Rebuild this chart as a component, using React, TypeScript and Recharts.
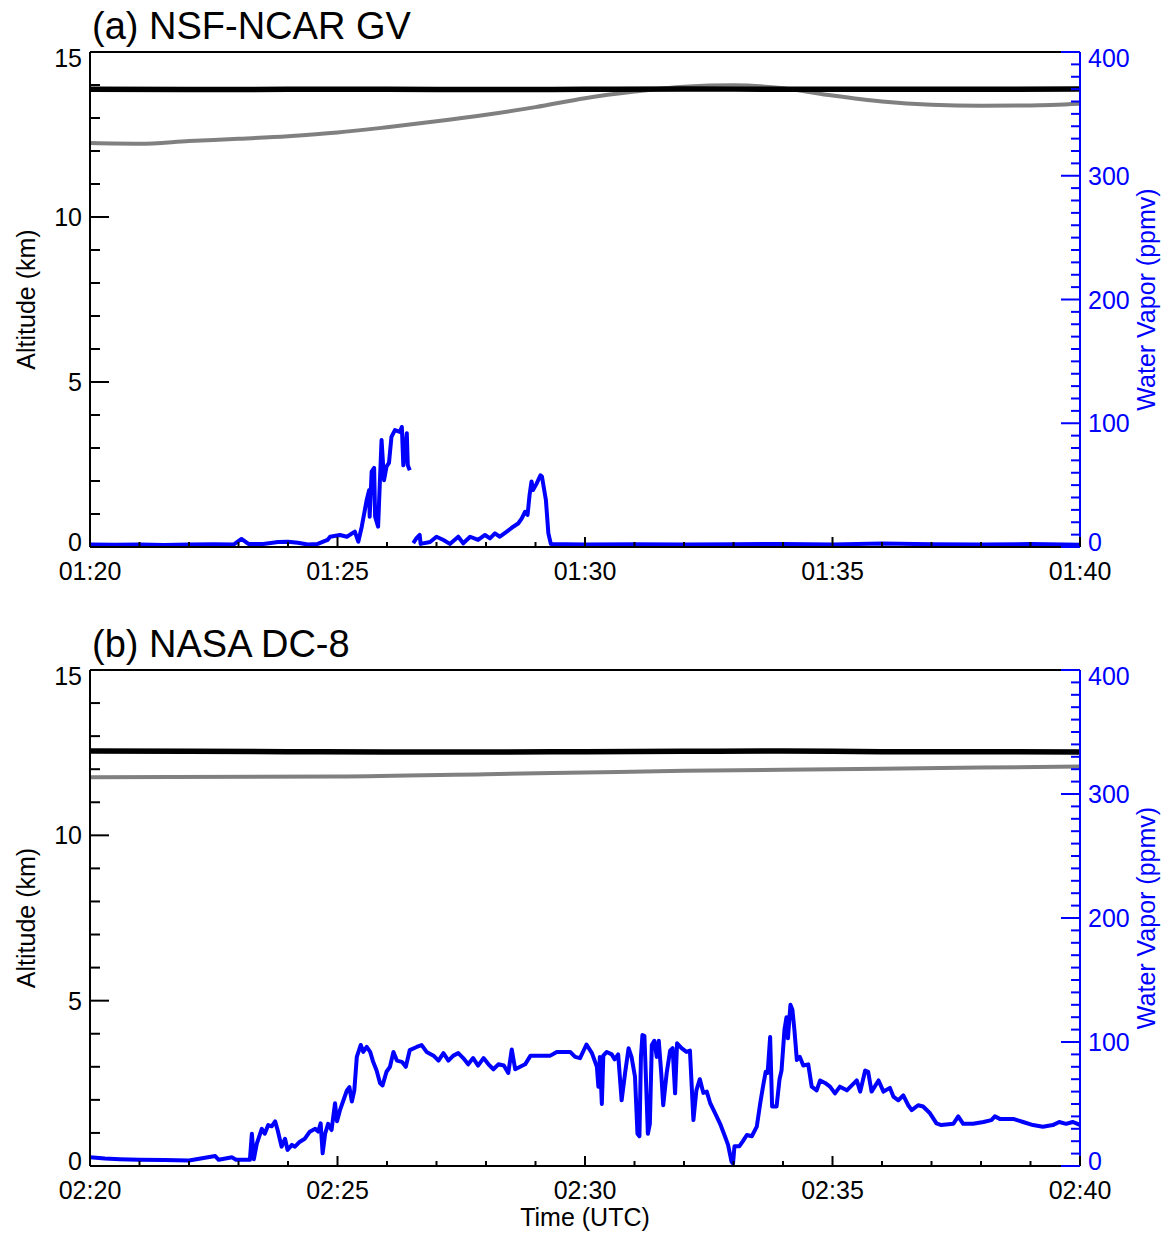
import React from 'react';
import { ComposedChart, Line, XAxis, YAxis } from 'recharts';

const FONT = '"Liberation Sans", Arial, Helvetica, sans-serif';
const BLUE = '#0000ff';
const GRAY = '#808080';

// time axis is in minutes after the window start (01:20 for the GV, 02:20 for the DC-8)
const minuteTicks = [0, 1, 2, 3, 4, 5, 6, 7, 8, 9, 10, 11, 12, 13, 14, 15, 16, 17, 18, 19, 20];
const gvTimeLabels = ['01:20', '01:25', '01:30', '01:35', '01:40'];
const dc8TimeLabels = ['02:20', '02:25', '02:30', '02:35', '02:40'];
const altTicks = [0, 1, 2, 3, 4, 5, 6, 7, 8, 9, 10, 11, 12, 13, 14, 15];
const h2oTicks = Array.from({ length: 41 }, (_, i) => i * 10);

// (a) NSF-NCAR GV
const gvAltTime = [0, 2, 4, 6, 8, 10, 12, 14, 16, 18, 20];
const gvAlt = [13.87, 13.86, 13.87, 13.87, 13.86, 13.87, 13.88, 13.87, 13.87, 13.87, 13.88];
const gvTropTime = [0, 1, 2, 3, 4, 5, 6, 7, 8, 9, 10, 11, 12, 13, 14, 15, 16, 17, 18, 19, 20];
const gvTrop = [12.24, 12.22, 12.3, 12.37, 12.45, 12.56, 12.72, 12.9, 13.1, 13.33, 13.6, 13.8, 13.95, 13.99, 13.9, 13.68, 13.5, 13.4, 13.37, 13.38, 13.43];
const gvH2OTime = [
  0, 0.5, 1, 1.5, 2, 2.5, 2.9, 3.06, 3.2, 3.5, 3.8, 4.0, 4.2, 4.4, 4.6, 4.8, 4.85, 5.05, 5.19, 5.35,
  5.42, 5.49, 5.59, 5.64, 5.65, 5.69, 5.74, 5.76, 5.82, 5.89, 5.94, 5.99, 6.04, 6.09, 6.16, 6.26, 6.3,
  6.33, 6.4, 6.42, 6.46, 6.5, 6.53, 6.6, 6.66, 6.68, 6.87, 7.0, 7.14, 7.27, 7.44, 7.54, 7.68, 7.84,
  7.98, 8.08, 8.18, 8.28, 8.42, 8.55, 8.65, 8.72, 8.79, 8.84, 8.88, 8.92, 8.95, 9.02, 9.1, 9.13, 9.21,
  9.26, 9.31, 9.6, 10, 11, 12, 13, 14, 15, 16, 17, 18, 19, 20,
];
const gvH2O: (number | null)[] = [
  2, 1.8, 2, 1.6, 2, 2.2, 2, 6.5, 2.5, 2.5, 4, 4.3, 3.5, 2, 2.5, 5.7, 8.3, 9.7, 8.3, 12.4,
  4.3, 16.4, 38, 46, 24.5, 61, 64, 24.5, 16.4, 86.5, 54, 65, 68, 89, 94.5, 93, 97,
  66, 92, 66, 62, null, 3.2, 7.3, 9.7, 2.5, 4, 8.3, 5.7, 2.5, 8.3, 3, 8.3, 5.7,
  9.7, 7, 11, 8.3, 12.4, 16.4, 19, 23, 28.5, 26, 42, 53, 46, 51, 58, 57, 38,
  11, 2.5, 2.2, 2, 2.3, 2, 2.2, 2.5, 2.1, 2.8, 2.2, 2, 2.4, 1.8,
];

// (b) NASA DC-8
const dc8AltTime = [0, 2, 4, 6, 8, 10, 12, 14, 16, 18, 20];
const dc8Alt = [12.55, 12.54, 12.53, 12.52, 12.52, 12.53, 12.54, 12.55, 12.53, 12.53, 12.52];
const dc8TropTime = [0, 5, 8, 10, 12, 15, 18, 20];
const dc8Trop = [11.76, 11.78, 11.85, 11.9, 11.95, 12.0, 12.05, 12.08];
const dc8H2OTime = [
  0, 0.3, 0.6, 1, 1.5, 2, 2.53, 2.6, 2.87, 2.95, 3.23, 3.27, 3.31, 3.37, 3.47, 3.53, 3.6, 3.67, 3.74,
  3.79, 3.87, 3.94, 3.99, 4.08, 4.14, 4.24, 4.34, 4.44, 4.55, 4.61, 4.66, 4.7, 4.75, 4.81, 4.88, 4.95,
  4.99, 5.05, 5.12, 5.19, 5.24, 5.29, 5.34, 5.39, 5.47, 5.52, 5.59, 5.66, 5.72, 5.79, 5.86, 5.91, 5.99,
  6.06, 6.13, 6.2, 6.3, 6.38, 6.46, 6.6, 6.7, 6.8, 6.94, 7.04, 7.14, 7.24, 7.34, 7.44, 7.54, 7.64, 7.74,
  7.84, 7.95, 8.05, 8.15, 8.25, 8.36, 8.45, 8.52, 8.59, 8.69, 8.79, 8.9, 9.03, 9.16, 9.3, 9.43, 9.56,
  9.7, 9.8, 9.9, 10.03, 10.14, 10.24, 10.27, 10.3, 10.34, 10.37, 10.44, 10.54, 10.6, 10.67, 10.74,
  10.81, 10.88, 10.94, 11.01, 11.06, 11.1, 11.13, 11.16, 11.2, 11.23, 11.27, 11.31, 11.35, 11.4, 11.45,
  11.49, 11.54, 11.58, 11.65, 11.72, 11.77, 11.82, 11.86, 11.95, 12.05, 12.12, 12.19, 12.25, 12.32,
  12.39, 12.46, 12.53, 12.63, 12.73, 12.83, 12.89, 12.96, 12.99, 13.02, 13.12, 13.19, 13.27, 13.37,
  13.47, 13.54, 13.6, 13.65, 13.69, 13.74, 13.78, 13.87, 13.93, 13.97, 14.03, 14.07, 14.1, 14.15,
  14.19, 14.23, 14.28, 14.34, 14.41, 14.51, 14.58, 14.68, 14.75, 14.85, 14.95, 15.05, 15.15, 15.29,
  15.39, 15.49, 15.56, 15.66, 15.72, 15.79, 15.93, 16.03, 16.16, 16.23, 16.33, 16.43, 16.53, 16.6,
  16.73, 16.83, 16.97, 17.1, 17.2, 17.44, 17.54, 17.64, 17.84, 18.05, 18.21, 18.28, 18.38, 18.65,
  18.85, 19.05, 19.25, 19.45, 19.58, 19.72, 19.85, 19.95, 20,
];
const dc8H2O = [
  7, 6, 5.5, 5, 4.8, 4.5, 8, 5, 7, 5, 5, 26, 5.5, 18, 30, 26, 33, 32, 36,
  29, 15.6, 22, 13, 17, 15.6, 19.6, 22, 27.7, 30, 27.7, 34.4, 10.2, 26, 34, 29, 50.6,
  36, 45, 53, 61, 63.6, 52, 61, 88, 97.6, 92, 96, 92, 84, 77, 66.7, 65, 76,
  80, 92, 85, 84, 80, 93.5, 96, 97.5, 92, 89, 85, 91, 85, 89, 91, 87, 82, 87,
  81, 87, 82, 78, 82, 81, 75, 94, 78, 80, 82, 89, 89, 89, 89, 92, 92,
  92, 88, 87, 98, 91, 80, 64, 88, 50, 89, 92, 90, 86, 90, 53,
  75, 95, 88, 72, 26, 24, 88, 105.6, 105, 72, 26, 34, 97.6, 101, 88,
  101, 75, 49, 75, 93, 95, 58.6, 99, 95, 92, 93, 37, 61, 70,
  59, 60, 50.6, 42.5, 34, 23.6, 17, 3.5, 2, 16, 16, 20, 25, 24,
  31.7, 50.6, 65, 76, 75, 104, 48, 48, 70, 77, 110, 120, 103, 130,
  126, 110, 85.5, 88, 81, 82, 64, 61, 69, 67, 64, 58.6, 64, 61,
  65, 69, 60, 77, 76, 60, 69, 60, 63, 56, 53, 57, 49, 45,
  49, 48, 42.5, 34.4, 33, 34, 40, 34, 34, 35.5, 37, 40, 38, 38,
  35.5, 33, 31.7, 33, 35.5, 34, 35.5, 34, 33,
];

const zip = (t: number[], v: (number | null)[]) => t.map((x, i) => ({ t: x, v: v[i] }));

const textStyle = { fontFamily: FONT, fontSize: 25 };

function TopTick({ x = 0, y = 0, payload }: any) {
  const major = payload.value % 5 === 0;
  return <line x1={x} x2={x} y1={y} y2={y + (major ? 10 : 6)} stroke="#000" strokeWidth={2} />;
}

function makeBottomTick(labels: string[]) {
  return ({ x = 0, y = 0, payload }: any) => {
    const major = payload.value % 5 === 0;
    return (
      <g>
        <line x1={x} x2={x} y1={y} y2={y - (major ? 10 : 5)} stroke="#000" strokeWidth={2} />
        {major && (
          <text x={x} y={y + 33} textAnchor="middle" fill="#000" {...textStyle}>
            {labels[payload.value / 5]}
          </text>
        )}
      </g>
    );
  };
}

function LeftTick({ x = 0, y = 0, payload }: any) {
  const v = payload.value;
  const major = v % 5 === 0;
  const dy = v === 15 ? 15 : v === 0 ? 4 : 9;
  return (
    <g>
      <line x1={x} x2={x + (major ? 19 : 10)} y1={y} y2={y} stroke="#000" strokeWidth={2} />
      {major && (
        <text x={x - 8} y={y + dy} textAnchor="end" fill="#000" {...textStyle}>
          {v}
        </text>
      )}
    </g>
  );
}

function RightTick({ x = 0, y = 0, payload }: any) {
  const v = payload.value;
  const major = v % 100 === 0;
  const dy = v === 400 ? 15 : v === 0 ? 4 : 9;
  return (
    <g>
      <line x1={x} x2={x - (major ? 19 : 9)} y1={y} y2={y} stroke={BLUE} strokeWidth={2} />
      {major && (
        <text x={x + 8} y={y + dy} textAnchor="start" fill={BLUE} {...textStyle}>
          {v}
        </text>
      )}
    </g>
  );
}

const verticalTitle = (text: string, dx: number, fill: string) => (props: any) => {
  const { x, y, height } = props.viewBox;
  const cx = x + dx;
  const cy = y + height / 2;
  return (
    <text x={cx} y={cy} transform={`rotate(-90 ${cx} ${cy})`} textAnchor="middle" dominantBaseline="central" fill={fill} {...textStyle}>
      {text}
    </text>
  );
};

const panelTitle = (text: string) => (props: any) => {
  const { x, y, height } = props.viewBox;
  return (
    <text x={x + 2} y={y + height - 13} fill="#000" fontFamily={FONT} fontSize={38}>
      {text}
    </text>
  );
};

const timeTitle = (props: any) => {
  const { x, y, width } = props.viewBox;
  return (
    <text x={x + width / 2} y={y + 60} textAnchor="middle" fill="#000" {...textStyle}>
      Time (UTC)
    </text>
  );
};

interface PanelProps {
  height: number;
  topH: number;
  bottomH: number;
  title: string;
  timeLabels: string[];
  alt: { t: number; v: number | null }[];
  trop: { t: number; v: number | null }[];
  h2o: { t: number; v: number | null }[];
  showTimeTitle?: boolean;
}

function Panel({ height, topH, bottomH, title, timeLabels, alt, trop, h2o, showTimeTitle }: PanelProps) {
  return (
    <ComposedChart width={1162} height={height} margin={{ top: 0, right: 0, bottom: 0, left: 0 }}>
      <XAxis
        xAxisId="top"
        orientation="top"
        type="number"
        domain={[0, 20]}
        allowDataOverflow
        ticks={minuteTicks}
        interval={0}
        height={topH}
        tickSize={0}
        tickMargin={0}
        tickLine={false}
        axisLine={{ stroke: '#000', strokeWidth: 2 }}
        tick={TopTick}
        label={panelTitle(title)}
      />
      <XAxis
        xAxisId="time"
        dataKey="t"
        type="number"
        domain={[0, 20]}
        allowDataOverflow
        ticks={minuteTicks}
        interval={0}
        height={bottomH}
        tickSize={0}
        tickMargin={0}
        tickLine={false}
        axisLine={{ stroke: '#000', strokeWidth: 2 }}
        tick={makeBottomTick(timeLabels)}
        label={showTimeTitle ? timeTitle : undefined}
      />
      <YAxis
        yAxisId="alt"
        type="number"
        domain={[0, 15]}
        allowDataOverflow
        ticks={altTicks}
        interval={0}
        width={90}
        tickSize={0}
        tickMargin={0}
        tickLine={false}
        axisLine={{ stroke: '#000', strokeWidth: 2 }}
        tick={LeftTick}
        label={verticalTitle('Altitude (km)', 26, '#000')}
      />
      <YAxis
        yAxisId="h2o"
        orientation="right"
        type="number"
        domain={[0, 400]}
        allowDataOverflow
        ticks={h2oTicks}
        interval={0}
        width={82}
        tickSize={0}
        tickMargin={0}
        tickLine={false}
        axisLine={{ stroke: BLUE, strokeWidth: 2 }}
        tick={RightTick}
        label={verticalTitle('Water Vapor (ppmv)', 66, BLUE)}
      />
      <Line xAxisId="time" yAxisId="alt" data={trop} dataKey="v" type="monotone" stroke={GRAY} strokeWidth={4} dot={false} isAnimationActive={false} />
      <Line xAxisId="time" yAxisId="alt" data={alt} dataKey="v" type="monotone" stroke="#000" strokeWidth={5.5} dot={false} isAnimationActive={false} />
      <Line
        xAxisId="time"
        yAxisId="h2o"
        data={h2o}
        dataKey="v"
        type="linear"
        stroke={BLUE}
        strokeWidth={4}
        strokeLinejoin="round"
        dot={false}
        connectNulls={false}
        isAnimationActive={false}
      />
    </ComposedChart>
  );
}

export default function App() {
  return (
    <div style={{ position: 'absolute', left: 0, top: 0, width: 1162, height: 1235, background: '#fff' }}>
      <div style={{ position: 'absolute', left: 0, top: 0 }}>
        <Panel
          height={600}
          topH={52}
          bottomH={53}
          title="(a) NSF-NCAR GV"
          timeLabels={gvTimeLabels}
          alt={zip(gvAltTime, gvAlt)}
          trop={zip(gvTropTime, gvTrop)}
          h2o={zip(gvH2OTime, gvH2O)}
        />
      </div>
      <div style={{ position: 'absolute', left: 0, top: 600 }}>
        <Panel
          height={635}
          topH={70}
          bottomH={69}
          title="(b) NASA DC-8"
          timeLabels={dc8TimeLabels}
          alt={zip(dc8AltTime, dc8Alt)}
          trop={zip(dc8TropTime, dc8Trop)}
          h2o={zip(dc8H2OTime, dc8H2O)}
          showTimeTitle
        />
      </div>
    </div>
  );
}
